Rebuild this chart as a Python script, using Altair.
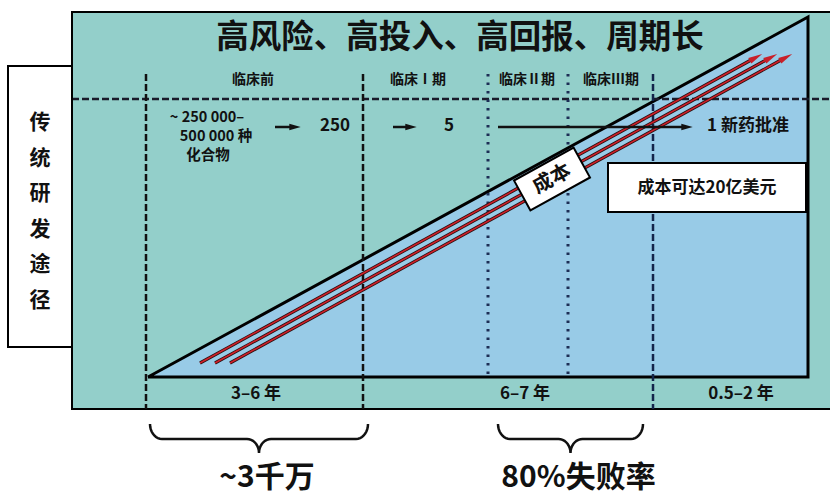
import altair as alt
import pandas as pd
import numpy as np

W, H = 830, 495
FONT = "Noto Sans CJK SC"

# ---- content ----
title_text = "高风险、高投入、高回报、周期长"
side_label = list("传统研发途径")
phase_names = ["临床前", "临床Ⅰ期", "临床Ⅱ期", "临床Ⅲ期"]
phase_label_x = [253, 418, 527, 611]
boundary_x = [146, 363, 488, 568, 653]
boundary_kind = ["dash", "dash", "dot", "dot", "dash2"]
duration_labels = ["3–6 年", "6–7 年", "0.5–2 年"]
duration_x = [256, 525, 741]
compound_lines = ["~ 250 000–", "500 000 种", "化合物"]
funnel_values = ["250", "5", "1 新药批准"]
funnel_x = [335, 449, 748]
funnel_arrows_start = [275, 393, 498]
funnel_arrows_end = [300, 416, 692]
cost_label = "成本"
cost_note = "成本可达20亿美元"
brace_labels = ["~3千万", "80%失败率"]
brace_left = [150, 498]
brace_right = [368, 643]

# ---- layout (diagram units, y downward) ----
panel = dict(x0=72, x1=840, y0=12, y1=409)
side_box = dict(x0=8, x1=72, y0=66, y1=347)
tri = dict(x0=148, x1=808, ytop=17, ybot=377)
row_phase_y = 80
sep_y = 99
row_funnel_y = 126
duration_y = 394
arrow_start_x = [200, 215, 230]
arrow_end_x = [762, 777, 792]
arrow_start_y, arrow_end_y = 363, 54

teal = "#93cfca"
blue = "#98cbe7"

xs = alt.Scale(domain=[0, W], range=[0, W], nice=False, zero=False)
ys = alt.Scale(domain=[0, H], reverse=True, nice=False, zero=False)

def X(f="x"):
    return alt.X(f"{f}:Q", scale=xs, axis=None)

def Y(f="y"):
    return alt.Y(f"{f}:Q", scale=ys, axis=None)

def rect(d, fill, stroke="black", sw=2):
    df = pd.DataFrame([d])
    return alt.Chart(df).mark_rect(fill=fill, stroke=stroke, strokeWidth=sw).encode(
        x=X("x0"), x2="x1:Q", y=Y("y0"), y2="y1:Q")

def text_layer(df, size, **kw):
    return alt.Chart(df).mark_text(font=FONT, fontSize=size, fontWeight="bold", color="#111", **kw).encode(
        x=X(), y=Y(), text="t:N")

layers = []

# teal panel
layers.append(rect(panel, teal))

# triangle fill + outline
tri_df = pd.DataFrame({"x": [tri["x0"], tri["x1"]], "y": [tri["ybot"], tri["ytop"]], "y2": [tri["ybot"], tri["ybot"]]})
layers.append(alt.Chart(tri_df).mark_area(color=blue, opacity=1).encode(x=X(), y=Y(), y2="y2:Q"))
tri_outline = pd.DataFrame({"x": [tri["x0"], tri["x1"], tri["x1"], tri["x0"]],
                            "y": [tri["ybot"], tri["ytop"], tri["ybot"], tri["ybot"]],
                            "o": [0, 1, 2, 3]})
layers.append(alt.Chart(tri_outline).mark_line(color="black", strokeWidth=3).encode(
    x=X(), y=Y(), order="o:Q"))

# horizontal dashed separator
sep_df = pd.DataFrame({"x": [panel["x0"]], "x2": [W], "y": [sep_y]})
layers.append(alt.Chart(sep_df).mark_rule(color="#1a1a2a", strokeWidth=2.5, strokeDash=[7, 3]).encode(
    x=X(), x2="x2:Q", y=Y()))

# vertical boundaries
bd = pd.DataFrame({"x": boundary_x, "kind": boundary_kind})
for kind, dash, bottom, col, sw in [("dash", [7, 3], panel["y1"], "#111111", 2.5),
                                   ("dot", [2.5, 6], tri["ybot"], "#1c2e55", 3),
                                   ("dash2", [7, 3], panel["y1"], "#13244a", 2.5)]:
    sub = bd[bd.kind == kind].copy()
    sub["y"] = 74
    sub["y2"] = bottom
    layers.append(alt.Chart(sub).mark_rule(color=col, strokeWidth=sw, strokeDash=dash).encode(
        x=X(), y=Y(), y2="y2:Q"))

# red cost arrows
ang = float(np.degrees(np.arctan2(arrow_start_y - arrow_end_y,
                                  np.mean(arrow_end_x) - np.mean(arrow_start_x))))
slope = np.tan(np.radians(ang))
rows = []
for i, (sx, ex) in enumerate(zip(arrow_start_x, arrow_end_x)):
    rows.append({"line": i, "x": sx, "y": arrow_start_y, "o": 0})
    rows.append({"line": i, "x": ex - 10, "y": arrow_end_y + 10 * slope, "o": 1})
arr_df = pd.DataFrame(rows)
layers.append(alt.Chart(arr_df).mark_line(color="#2a1010", strokeWidth=3.2).encode(
    x=X(), y=Y(), detail="line:N", order="o:Q"))
layers.append(alt.Chart(arr_df).mark_line(color="#d0202a", strokeWidth=1.6).encode(
    x=X(), y=Y(), detail="line:N", order="o:Q"))
head_df = pd.DataFrame({"x": [e - 6 for e in arrow_end_x],
                        "y": [arrow_end_y + 6 * slope for _ in arrow_end_x]})
layers.append(alt.Chart(head_df).mark_point(shape="M1,0L-1,-0.45L-1,0.45Z", filled=True, color="#c8202a",
                                             size=200, angle=360 - ang, opacity=1).encode(x=X(), y=Y()))

# cost label box (rotated)
cost_df = pd.DataFrame({"x": [552], "y": [179], "t": [cost_label]})
layers.append(alt.Chart(cost_df).mark_point(
    shape="M-1,-0.5L1,-0.5L1,0.5L-1,0.5Z", size=68 * 68, filled=True, fill="white",
    stroke="black", strokeWidth=2, angle=360 - ang, opacity=1).encode(x=X(), y=Y()))
layers.append(text_layer(cost_df, 20, angle=360 - ang))

# note box
note_box = dict(x0=608, x1=806, y0=163, y1=212)
layers.append(rect(note_box, "white"))
note_df = pd.DataFrame({"x": [(note_box["x0"] + note_box["x1"]) / 2], "y": [188], "t": [cost_note]})
layers.append(text_layer(note_df, 17))

# side box
layers.append(rect(side_box, "white"))
side_df = pd.DataFrame({"x": [40] * len(side_label), "y": [123 + 35.5 * i for i in range(len(side_label))],
                        "t": side_label})
layers.append(text_layer(side_df, 21))

# title
title_df = pd.DataFrame({"x": [460], "y": [38], "t": [title_text]})
layers.append(text_layer(title_df, 32.5))

# phase labels
ph_df = pd.DataFrame({"x": phase_label_x, "y": [row_phase_y] * 4, "t": phase_names})
layers.append(text_layer(ph_df, 14))

# compound text
cp_df = pd.DataFrame({"x": [207, 216, 208], "y": [118, 137, 156], "t": compound_lines})
layers.append(text_layer(cp_df, 14.5))

# funnel values
fv_df = pd.DataFrame({"x": funnel_x, "y": [row_funnel_y] * 3, "t": funnel_values})
layers.append(text_layer(fv_df, 17))

# funnel black arrows
fa_df = pd.DataFrame({"x": funnel_arrows_start, "x2": [e - 6 for e in funnel_arrows_end], "y": [row_funnel_y + 1] * 3})
layers.append(alt.Chart(fa_df).mark_rule(color="#111", strokeWidth=2.5).encode(x=X(), x2="x2:Q", y=Y()))
fh_df = pd.DataFrame({"x": [e - 5 for e in funnel_arrows_end], "y": [row_funnel_y + 1] * 3})
layers.append(alt.Chart(fh_df).mark_point(shape="M1,0L-1,-0.55L-1,0.55Z", filled=True, color="#111", size=130,
                                           opacity=1).encode(x=X(), y=Y()))

# durations
du_df = pd.DataFrame({"x": duration_x, "y": [duration_y] * 3, "t": duration_labels})
layers.append(text_layer(du_df, 17))

# braces
def brace(x0, x1, ytop=424, ymid=439, ytip=453, r=12, n=10):
    xm = (x0 + x1) / 2
    pts = []
    t = np.linspace(0, np.pi / 2, n)
    pts += list(zip(x0 + r - r * np.cos(t), ytop + (ymid - ytop) * np.sin(t)))
    pts += list(zip(xm - r + r * np.sin(t), ymid + (ytip - ymid) * (1 - np.cos(t))))
    pts += list(zip(xm + r - r * np.sin(t[::-1]), ymid + (ytip - ymid) * (1 - np.cos(t[::-1]))))
    pts += list(zip(x1 - r + r * np.cos(t[::-1]), ytop + (ymid - ytop) * np.sin(t[::-1])))
    return pts

brows = []
for b, (l, r_) in enumerate(zip(brace_left, brace_right)):
    for k, (px, py) in enumerate(brace(l, r_)):
        brows.append({"b": b, "k": k, "x": px, "y": py})
br_df = pd.DataFrame(brows)
layers.append(alt.Chart(br_df).mark_line(color="#111", strokeWidth=2.5, interpolate="linear").encode(
    x=X(), y=Y(), detail="b:N", order="k:Q"))

bl_df = pd.DataFrame({"x": [(l + r_) / 2 + 8 for l, r_ in zip(brace_left, brace_right)],
                      "y": [478, 478], "t": brace_labels})
layers.append(text_layer(bl_df, 30))

chart = alt.layer(*layers).properties(
    width=W, height=H, autosize=alt.AutoSizeParams(type="none"), padding=0, background="white"
).configure_view(stroke=None)

chart.save("out.html", embed_options={"renderer": "svg", "actions": False})
